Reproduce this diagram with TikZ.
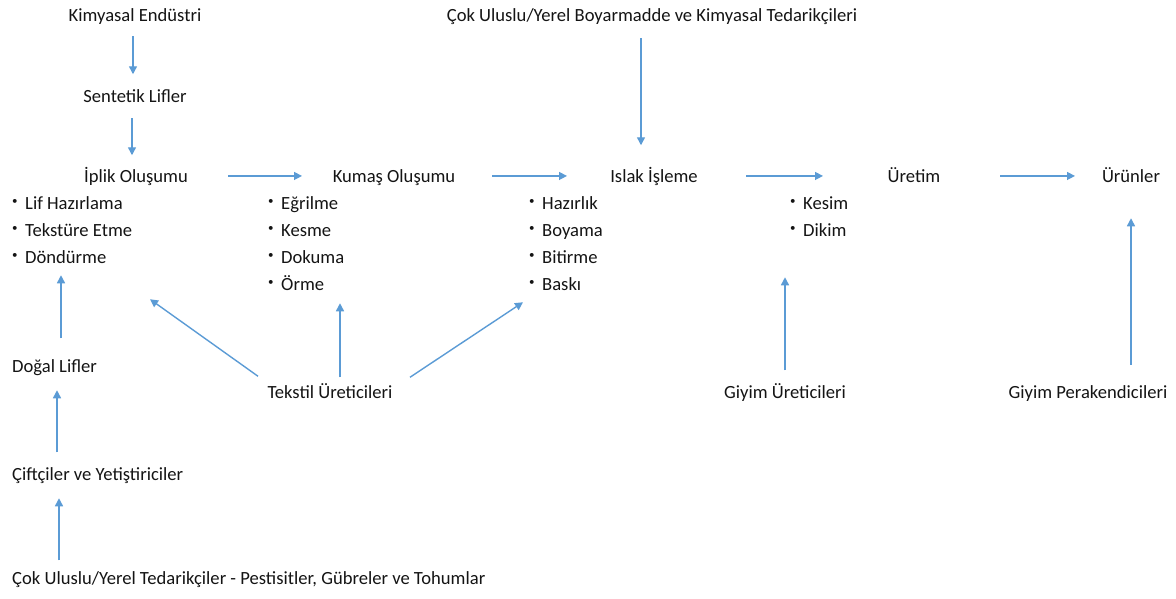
\documentclass[tikz,border=0pt]{standalone}
\usepackage{fontspec}
\setmainfont{Carlito}
\usetikzlibrary{arrows.meta}
\definecolor{arrowblue}{HTML}{5B9BD5}
\definecolor{txtc}{HTML}{141414}
\newcommand\bul{\makebox[13pt][l]{\raisebox{4.5pt}{\fontsize{11}{11}\selectfont •}}}
\begin{document}
\begin{tikzpicture}[x=1pt,y=-1pt,
  lbl/.style={inner sep=0pt, font=\fontsize{18.6}{21}\selectfont, text=txtc, text height=13pt, text depth=4.5pt},
  item/.style={lbl, anchor=base west},
  title/.style={lbl, anchor=base},
  arr/.style={draw=arrowblue, line width=1.4pt, -{Triangle[length=8pt,width=8pt]}}]
\useasboundingbox (0,0) rectangle (1176,598);

% top chain
\node[title] (kimya) at (135,21) {Kimyasal Endüstri};
\node[title] (sentetik) at (135,102) {Sentetik Lifler};
\node[title] (iplik) at (136,182) {İplik Oluşumu};
\node[title] (kumas) at (394,182) {Kumaş Oluşumu};
\node[title] (islak) at (654,182) {Islak İşleme};
\node[title] (uretim) at (914,182) {Üretim};
\node[title] (urunler) at (1131,182) {Ürünler};
\node[title] (cokB) at (652,21) {Çok Uluslu/Yerel Boyarmadde ve Kimyasal Tedarikçileri};

% lists
\node[item] (lif) at (12,209) {\bul Lif Hazırlama};
\node[item] (tekst) at (12,236) {\bul Tekstüre Etme};
\node[item] (don) at (12,263) {\bul Döndürme};

\node[item] (egr) at (268,209) {\bul Eğrilme};
\node[item] (kes) at (268,236) {\bul Kesme};
\node[item] (dok) at (268,263) {\bul Dokuma};
\node[item] (orme) at (268,290) {\bul Örme};

\node[item] (haz) at (529,209) {\bul Hazırlık};
\node[item] (boy) at (529,236) {\bul Boyama};
\node[item] (bit) at (529,263) {\bul Bitirme};
\node[item] (baski) at (529,290) {\bul Baskı};

\node[item] (kesim) at (790,209) {\bul Kesim};
\node[item] (dikim) at (790,236) {\bul Dikim};

% lower nodes
\node[item] (dogal) at (12,372) {Doğal Lifler};
\node[item] (cift) at (12,480) {Çiftçiler ve Yetiştiriciler};
\node[item] (cok) at (12,584) {Çok Uluslu/Yerel Tedarikçiler - Pestisitler, Gübreler ve Tohumlar};
\node[title] (tekstil) at (330,398) {Tekstil Üreticileri};
\node[title] (giyimU) at (785,398) {Giyim Üreticileri};
\node[title] (giyimP) at (1088,398) {Giyim Perakendicileri};

% arrows top chain
\draw[arr, shorten <=19.5pt, shorten >=23.5pt] ([xshift=-2pt]kimya.center) -- ([xshift=-2pt]sentetik.center);
\draw[arr, shorten <=20.5pt, shorten >=22.5pt] ([xshift=-3pt]sentetik.center) -- ([xshift=-4pt]iplik.center);
\draw[arr, shorten <=21.5pt, shorten >=32.5pt] ([xshift=-11pt]cokB.center) -- ([xshift=-13pt]islak.center);

\draw[arr, shorten <=92pt, shorten >=92pt] ([yshift=1.8pt]iplik.center) -- ([yshift=1.8pt]kumas.center);
\draw[arr, shorten <=98pt, shorten >=87pt] ([yshift=1.8pt]kumas.center) -- ([yshift=1.8pt]islak.center);
\draw[arr, shorten <=92pt, shorten >=91pt] ([yshift=1.8pt]islak.center) -- ([yshift=1.8pt]uretim.center);
\draw[arr, shorten <=86pt, shorten >=56pt] ([yshift=1.8pt]uretim.center) -- ([yshift=1.8pt]urunler.center);

% left column arrows
\draw[arr, shorten <=29.5pt, shorten >=16.5pt] ([xshift=49pt]dogal.west) -- ([xshift=49pt]don.west);
\draw[arr, shorten <=23.5pt, shorten >=22.5pt] ([xshift=45pt]cift.west) -- ([xshift=45pt]dogal.west);
\draw[arr, shorten <=19.5pt, shorten >=22.5pt] ([xshift=47pt]cok.west) -- ([xshift=47pt]cift.west);

% Tekstil arrows
\draw[arr] ([shift={(-72,-17.5)}]tekstil.center) -- ([shift={(138,40.5)}]don.west);
\draw[arr] ([shift={(10,-16.5)}]tekstil.center) -- ([shift={(72,17.5)}]orme.west);
\draw[arr] ([shift={(80,-16.5)}]tekstil.center) -- ([shift={(-6,16.5)}]baski.west);

% Giyim arrows
\draw[arr] ([shift={(0,-23.5)}]giyimU.center) -- ([shift={(-5,45.5)}]dikim.west);
\draw[arr, shorten <=20pt, shorten >=40.5pt] (urunler.center |- giyimP.north) -- (urunler.center);
\end{tikzpicture}
\end{document}
